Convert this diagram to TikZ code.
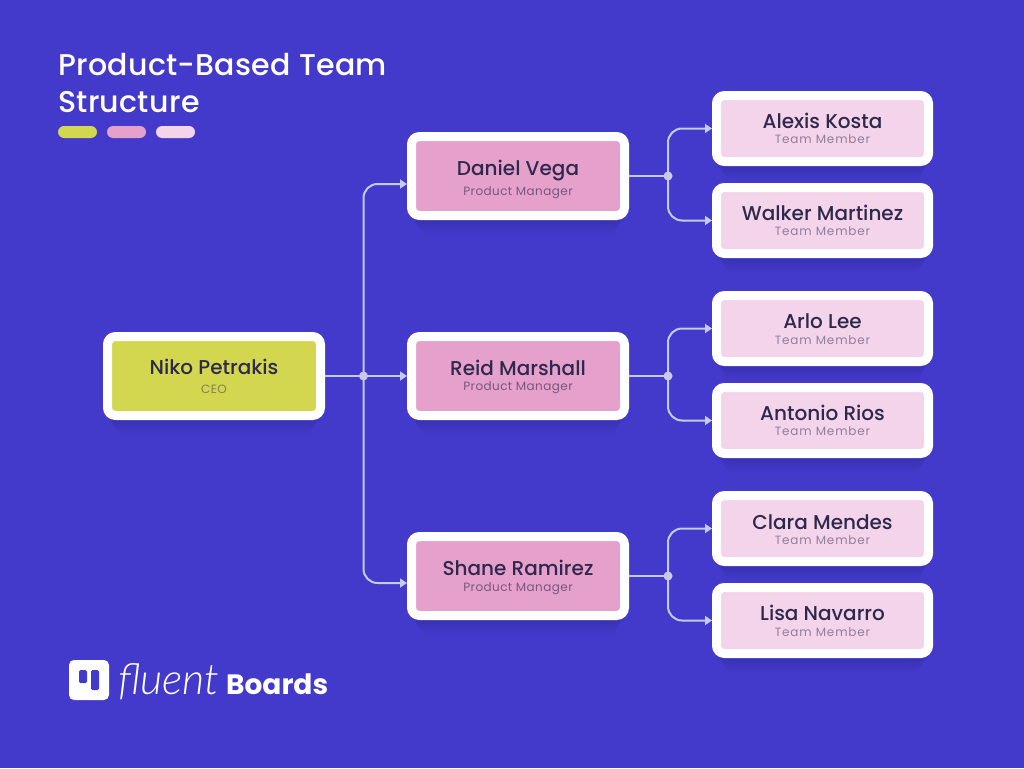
\documentclass[tikz,border=0pt]{standalone}
\usepackage{fontspec}
\setmainfont{Poppins}
\newfontfamily\namefont{Poppins Medium}
\newfontfamily\logolight{Lato Light}
\usetikzlibrary{arrows.meta, shadows}
\definecolor{fbback}{RGB}{67, 58, 203}
\definecolor{fbgreen}{RGB}{211, 214, 79}
\definecolor{fbpink}{RGB}{229, 160, 203}
\definecolor{fblight}{RGB}{243, 212, 234}
\definecolor{fbink}{RGB}{46, 41, 76}
\definecolor{fbline}{RGB}{197, 202, 238}
\tikzset{
    softshadow/.style={
        copy shadow={shadow xshift=0pt, shadow yshift=-24pt, shadow scale=.92, draw=none, fill=black, opacity=.012},
        copy shadow={shadow xshift=0pt, shadow yshift=-20pt, shadow scale=.94, draw=none, fill=black, opacity=.015},
        copy shadow={shadow xshift=0pt, shadow yshift=-16pt, shadow scale=.96, draw=none, fill=black, opacity=.02},
        copy shadow={shadow xshift=0pt, shadow yshift=-12pt, shadow scale=.98, draw=none, fill=black, opacity=.025},
        copy shadow={shadow xshift=0pt, shadow yshift=-8pt, draw=none, fill=black, opacity=.03}},
    ceobox/.style={softshadow, draw=white, line width=9pt, rounded corners=8pt, fill=fbgreen, minimum width=213pt, minimum height=79pt, inner sep=0pt},
    mgrbox/.style={ceobox, fill=fbpink},
    memberbox/.style={ceobox, fill=fblight, minimum width=212pt, minimum height=66pt},
    namelbl/.style={anchor=base, text=fbink, inner sep=0pt, font=\namefont\fontsize{20}{24}\selectfont},
    rolelbl/.style={anchor=base, text=fbink!60!fbpink, inner sep=0pt, font=\fontsize{12}{14}\selectfont\addfontfeatures{LetterSpace=3.5}},
    memberrole/.style={rolelbl, text=fbink!50!fblight, font=\fontsize{12}{14}\selectfont\addfontfeatures{LetterSpace=7}},
    titlelbl/.style={anchor=base west, inner sep=0pt, text=white, font=\namefont\fontsize{30}{37}\selectfont\addfontfeatures{LetterSpace=1}},
    link/.style={draw=fbline, line width=2pt, rounded corners=14pt},
    tolink/.style={link, -{Triangle[length=7pt, width=9pt]}},
    jdot/.style={circle, fill=fbline, inner sep=0pt, minimum size=9pt},
    pill/.style={rounded corners=6pt, minimum width=39pt, minimum height=12pt, inner sep=0pt}
}
\begin{document}
\begin{tikzpicture}[x=1pt, y=-1pt, >=Stealth]
\useasboundingbox[fill=fbback] (0,0) rectangle (1024,768);

% === Titulo ===
\node[titlelbl] (titleone) at (58,75) {Product-Based Team};
\node[titlelbl] (titletwo) at (58,112) {Structure};
\node[pill, fill=fbgreen] (pillone) at (77.5,132) {};
\node[pill, fill=fbpink] (pilltwo) at (126.5,132) {};
\node[pill, fill=fblight] (pillthree) at (175.5,132) {};

% === Cajas ===
\node[ceobox] (niko) at (214,376) {};
\node[mgrbox] (daniel) at (518,176) {};
\node[mgrbox] (reid) at (518,376) {};
\node[mgrbox] (shane) at (518,576) {};
\node[memberbox] (alexis) at (822.5,128.5) {};
\node[memberbox] (walker) at (822.5,220.5) {};
\node[memberbox] (arlo) at (822.5,328.5) {};
\node[memberbox] (antonio) at (822.5,420.5) {};
\node[memberbox] (clara) at (822.5,528.5) {};
\node[memberbox] (lisa) at (822.5,620.5) {};

% === Textos ===
\node[namelbl] (nikoname) at (214,374) {Niko Petrakis};
\node[rolelbl, text=fbink!50!fbgreen] (nikorole) at (214,393) {CEO};
\node[namelbl] (danielname) at (518,175) {Daniel Vega};
\node[rolelbl] (danielrole) at (518,195) {Product Manager};
\node[namelbl] (reidname) at (518,375) {Reid Marshall};
\node[rolelbl] (reidrole) at (518,390) {Product Manager};
\node[namelbl] (shanename) at (518,575) {Shane Ramirez};
\node[rolelbl] (shanerole) at (518,591) {Product Manager};
\node[namelbl] (alexisname) at (822.5,128) {Alexis Kosta};
\node[memberrole] (alexisrole) at (822.5,143) {Team Member};
\node[namelbl] (walkername) at (822.5,220) {Walker Martinez};
\node[memberrole] (walkerrole) at (822.5,235) {Team Member};
\node[namelbl] (arloname) at (822.5,328) {Arlo Lee};
\node[memberrole] (arlorole) at (822.5,344) {Team Member};
\node[namelbl] (antonioname) at (822.5,420) {Antonio Rios};
\node[memberrole] (antoniorole) at (822.5,435) {Team Member};
\node[namelbl] (claraname) at (822.5,529) {Clara Mendes};
\node[memberrole] (clararole) at (822.5,544) {Team Member};
\node[namelbl] (lisaname) at (822.5,620) {Lisa Navarro};
\node[memberrole] (lisarole) at (822.5,636) {Team Member};

% === Conectores ===
\coordinate (jceo) at (363.5,376);
\coordinate (jdaniel) at (668,176);
\coordinate (jreid) at (668,376);
\coordinate (jshane) at (668,576);
\coordinate (danielin) at (daniel.west |- 0,184);
\coordinate (shanein) at (shane.west |- 0,583);

\draw[link] (niko.east) -- (jceo);
\draw[tolink] (jceo) |- (danielin);
\draw[tolink] (jceo) -- (reid.west);
\draw[tolink] (jceo) |- (shanein);

\draw[link] (daniel.east) -- (jdaniel);
\draw[tolink] (jdaniel) |- (alexis.west);
\draw[tolink] (jdaniel) |- (walker.west);
\draw[link] (reid.east) -- (jreid);
\draw[tolink] (jreid) |- (arlo.west);
\draw[tolink] (jreid) |- (antonio.west);
\draw[link] (shane.east) -- (jshane);
\draw[tolink] (jshane) |- (clara.west);
\draw[tolink] (jshane) |- (lisa.west);

\node[jdot] (dotceo) at (jceo) {};
\node[jdot] (dotdaniel) at (jdaniel) {};
\node[jdot] (dotreid) at (jreid) {};
\node[jdot] (dotshane) at (jshane) {};

% === Logo ===
\node[fill=white, rounded corners=5pt, minimum size=40pt, inner sep=0pt] (logobox) at (89,680) {};
\node[fill=fbback, rounded corners=1.5pt, minimum width=8pt, minimum height=13pt, inner sep=0pt] (logobarone) at (83,676.5) {};
\node[fill=fbback, rounded corners=1.5pt, minimum width=8pt, minimum height=20pt, inner sep=0pt] (logobartwo) at (95,680) {};
\node[anchor=base west, inner sep=0pt, text=white, font=\logolight\itshape\fontsize{43}{45}\selectfont] (logofluent) at (118,694) {fluent};
\node[anchor=base west, inner sep=0pt, text=white, font=\fontsize{28}{30}\selectfont\bfseries] (logoboards) at (226,694) {Boards};
\end{tikzpicture}
\end{document}
